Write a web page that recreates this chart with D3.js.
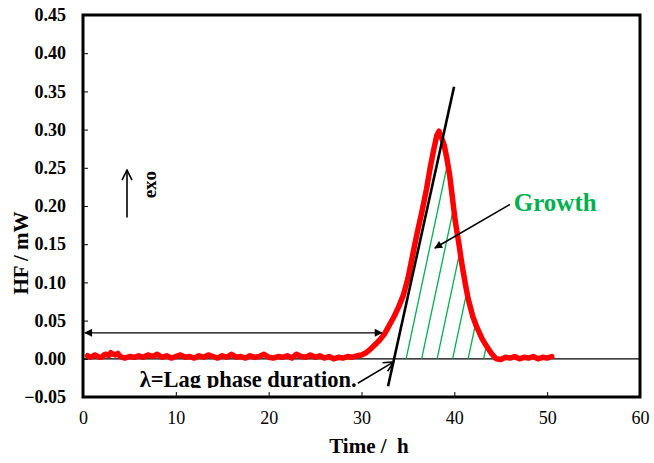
<!DOCTYPE html>
<html>
<head>
<meta charset="utf-8">
<script src="https://cdn.jsdelivr.net/npm/d3@7/dist/d3.min.js"></script>
<style>
  html, body { margin: 0; padding: 0; background: #fff; }
  svg { display: block; }
  text { font-family: "Liberation Serif", "Times New Roman", serif; }
</style>
</head>
<body>
<div id="chart"></div>
<script>
// ---------------- data ----------------
const timeH = [
  0.5,0.75,1.0,1.25,1.5,1.75,2.0,2.25,2.5,2.75,3.0,3.25,3.5,3.75,4.0,4.5,5.0,5.5,6.0,6.5,7.0,7.5,8.0,8.5,9.0,9.5,10.0,
  10.5,11.0,11.5,12.0,12.5,13.0,13.5,14.0,14.5,15.0,15.5,16.0,16.5,17.0,17.5,18.0,18.5,19.0,19.5,20.0,
  20.5,21.0,21.5,22.0,22.5,23.0,23.5,24.0,24.5,25.0,25.5,26.0,26.5,27.0,27.5,28.0,28.5,29.0,29.5,
  30.0,30.5,31.0,31.5,32.0,32.5,33.0,33.5,34.0,34.5,35.0,35.5,36.0,36.5,37.0,37.4,37.8,38.1,38.35,
  38.6,38.9,39.2,39.5,39.8,40.1,40.5,40.8,41.2,41.5,42.0,42.4,43.0,43.5,44.0,44.5,
  45.0,45.5,46.0,46.5,47.0,47.5,48.0,48.5,49.0,49.5,50.0,50.5
];
const heatFlow = [
  0.004,0.002,0.003,0.005,0.004,0.002,0.002,0.005,0.006,0.004,0.008,0.006,0.005,0.007,0.003,0.001,0.003,0.002,0.004,0.002,0.005,0.003,0.006,0.002,0.004,0.001,0.003,
  0.005,0.002,0.003,0.001,0.004,0.002,0.005,0.003,0.001,0.004,0.002,0.006,0.002,0.003,0.001,0.004,0.002,0.003,0.006,0.002,
  0.001,0.003,0.002,0.004,0.001,0.006,0.003,0.002,0.005,0.002,0.004,0.001,0.003,0.000,0.002,0.001,0.003,0.002,0.004,
  0.005,0.008,0.013,0.019,0.025,0.033,0.044,0.055,0.068,0.083,0.105,0.135,0.165,0.192,0.222,0.250,0.275,0.292,0.298,
  0.290,0.280,0.262,0.240,0.210,0.180,0.150,0.125,0.097,0.078,0.055,0.042,0.026,0.016,0.007,0.000,
  -0.001,0.002,0.001,0.003,0.000,0.002,0.001,0.003,0.000,0.002,0.001,0.003
];
// tangent line end points (time, HF)
const tangentX = [32.86, 39.97];
const tangentY = [-0.036, 0.356];
// axis ticks
const xTicks = [0, 10, 20, 30, 40, 50, 60];
const yTicks = [-0.05, 0.00, 0.05, 0.10, 0.15, 0.20, 0.25, 0.30, 0.35, 0.40, 0.45];
const labels = { x: "Time /  h", y: "HF / mW", growth: "Growth", lag: "λ=Lag phase duration.", exo: "exo" };

// ---------------- layout ----------------
const W = 654, H = 463;
const m = { left: 83, top: 15, right: 14, bottom: 66 };
const iw = W - m.left - m.right, ih = H - m.top - m.bottom;

const svg = d3.select("#chart").append("svg").attr("width", W).attr("height", H);
const defs = svg.append("defs");

const x = d3.scaleLinear().domain([0, 60]).range([m.left, m.left + iw]);
const y = d3.scaleLinear().domain([-0.05, 0.45]).range([m.top + ih, m.top]);

// markers
defs.append("marker").attr("id", "filled").attr("viewBox", "0 0 10 10")
  .attr("refX", 9).attr("refY", 5).attr("markerWidth", 10).attr("markerHeight", 8)
  .attr("markerUnits", "userSpaceOnUse").attr("orient", "auto-start-reverse")
  .append("path").attr("d", "M0,0 L10,5 L0,10 Z").attr("fill", "#000");
defs.append("marker").attr("id", "open").attr("viewBox", "0 0 12 12")
  .attr("refX", 11).attr("refY", 6).attr("markerWidth", 12).attr("markerHeight", 12)
  .attr("markerUnits", "userSpaceOnUse").attr("orient", "auto")
  .append("path").attr("d", "M1,1 L11,6 L1,11").attr("fill", "none").attr("stroke", "#000").attr("stroke-width", 1.6);

// zero line
svg.append("line").attr("x1", x(0)).attr("x2", x(60)).attr("y1", y(0)).attr("y2", y(0))
  .attr("stroke", "#000").attr("stroke-width", 1.2);

// ---- hatched "growth" region: between tangent, right side of curve, zero line
const pts = timeH.map((t, i) => [t, heatFlow[i]]);
const slope = (tangentY[1] - tangentY[0]) / (tangentX[1] - tangentX[0]);
const lambda = tangentX[0] - tangentY[0] / slope;
const tan = t => slope * (t - lambda);
const peakIdx = d3.maxIndex(heatFlow);
let cross = null;
for (let i = peakIdx; i < pts.length - 1; i++) {
  const a = pts[i], b = pts[i + 1];
  const fa = a[1] - tan(a[0]), fb = b[1] - tan(b[0]);
  if (fa >= 0 && fb < 0) { const f = fa / (fa - fb); cross = [a[0] + f * (b[0] - a[0]), a[1] + f * (b[1] - a[1])]; cross.i = i; break; }
}
const region = [[lambda, 0], cross];
for (let i = cross.i + 1; i < pts.length; i++) {
  if (pts[i][1] <= 0) { region.push([pts[i][0], 0]); break; }
  region.push(pts[i]);
}
defs.append("clipPath").attr("id", "growthClip").append("path")
  .attr("d", d3.line().x(d => x(d[0])).y(d => y(d[1]))(region) + "Z");
const hatch = svg.append("g").attr("clip-path", "url(#growthClip)");
const ang = 12 * Math.PI / 180, span = 320, step = 15.5;
for (let k = -3; k < 12; k++) {
  const xb = x(lambda) + 12 + k * step;
  hatch.append("line").attr("x1", xb).attr("y1", y(0))
    .attr("x2", xb + span * Math.tan(ang)).attr("y2", y(0) - span)
    .attr("stroke", "#00B050").attr("stroke-width", 1.3);
}

// ---- data curve
svg.append("path").datum(pts)
  .attr("d", d3.line().x(d => x(d[0])).y(d => y(d[1])))
  .attr("fill", "none").attr("stroke", "#FF0000").attr("stroke-width", 5.5)
  .attr("stroke-linejoin", "round").attr("stroke-linecap", "round");

// ---- tangent
svg.append("line").attr("x1", x(tangentX[0])).attr("y1", y(tangentY[0]))
  .attr("x2", x(tangentX[1])).attr("y2", y(tangentY[1]))
  .attr("stroke", "#000").attr("stroke-width", 2.6);

// ---- double arrow (lag span)
svg.append("line").attr("x1", x(0.2)).attr("x2", x(32.2)).attr("y1", y(0.034)).attr("y2", y(0.034))
  .attr("stroke", "#000").attr("stroke-width", 1.3)
  .attr("marker-start", "url(#filled)").attr("marker-end", "url(#filled)");

// ---- lag text (clipped at bottom like reference)
defs.append("clipPath").attr("id", "lagClip").append("rect")
  .attr("x", m.left).attr("y", m.top).attr("width", iw).attr("height", 388 - m.top);
svg.append("text").attr("clip-path", "url(#lagClip)")
  .attr("x", x(6.1)).attr("y", y(-0.0375))
  .attr("font-size", 22.5).attr("font-weight", "bold").attr("fill", "#000")
  .text(labels.lag);
svg.append("line").attr("x1", x(29.6)).attr("y1", y(-0.032))
  .attr("x2", x(lambda - 0.05)).attr("y2", y(-0.004))
  .attr("stroke", "#000").attr("stroke-width", 1.5).attr("marker-end", "url(#open)");

// ---- growth label & arrow
svg.append("text").attr("x", x(46.4)).attr("y", y(0.193))
  .attr("font-size", 25).attr("font-weight", "bold").attr("fill", "#00B050").text(labels.growth);
svg.append("line").attr("x1", x(46.0)).attr("y1", y(0.202))
  .attr("x2", x(37.9)).attr("y2", y(0.145))
  .attr("stroke", "#000").attr("stroke-width", 1.5).attr("marker-end", "url(#filled)");

// ---- exo arrow
svg.append("line").attr("x1", x(4.74)).attr("x2", x(4.74)).attr("y1", y(0.185)).attr("y2", y(0.247))
  .attr("stroke", "#000").attr("stroke-width", 1.6).attr("marker-end", "url(#open)");
svg.append("text").attr("transform", `translate(${x(7.2)},${y(0.228)}) rotate(-90)`)
  .attr("text-anchor", "middle").attr("dy", "0.3em")
  .attr("font-size", 19).attr("font-weight", "bold").text(labels.exo);

// ---- axes
const xAxis = svg.append("g").attr("transform", `translate(0,${m.top + ih})`)
  .call(d3.axisBottom(x).tickValues(xTicks).tickSizeInner(-5).tickSizeOuter(0).tickPadding(14).tickFormat(d3.format("d")));
xAxis.select(".domain").remove();
xAxis.selectAll("text").attr("font-size", 18).attr("font-family", "Liberation Serif").attr("fill", "#000");
xAxis.selectAll("line").attr("stroke-width", 1);

const yAxis = svg.append("g").attr("transform", `translate(${m.left},0)`)
  .call(d3.axisLeft(y).tickValues(yTicks).tickSizeInner(-5).tickSizeOuter(0).tickPadding(17).tickFormat(d3.format(".2f")));
yAxis.select(".domain").remove();
yAxis.selectAll("text").attr("font-size", 18).attr("font-weight", "bold").attr("font-family", "Liberation Serif").attr("fill", "#000");
yAxis.selectAll("line").attr("stroke-width", 1);

// frame
svg.append("rect").attr("x", m.left).attr("y", m.top).attr("width", iw).attr("height", ih)
  .attr("fill", "none").attr("stroke", "#000").attr("stroke-width", 3);

// axis titles
svg.append("text").attr("x", 369).attr("y", 453).attr("text-anchor", "middle")
  .style("white-space", "pre")
  .attr("font-size", 21).attr("font-weight", "bold").text(labels.x);
svg.append("text").attr("transform", `translate(28,${253}) rotate(-90)`).attr("text-anchor", "middle")
  .attr("font-size", 21).attr("font-weight", "bold").text(labels.y);
</script>
</body>
</html>
